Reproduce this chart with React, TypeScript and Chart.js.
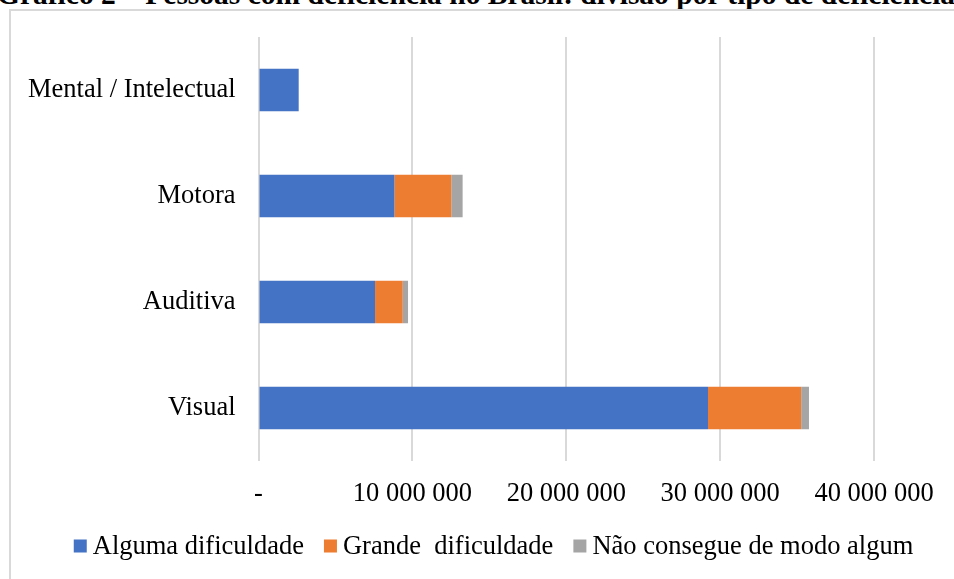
import React, { useEffect, useRef } from "react";
import { Chart, registerables } from "chart.js";

Chart.register(...registerables);

// Pessoas com deficiência por tipo e grau de dificuldade
const categories = ["Mental / Intelectual", "Motora", "Auditiva", "Visual"];
const seriesNames = ["Alguma dificuldade", "Grande  dificuldade", "Não consegue de modo algum"];
const algumaDificuldade = [2611536, 8832249, 7574145, 29211482];
const grandeDificuldade = [null, 3698929, 1798967, 6056533];
const naoConsegue = [null, 734421, 344206, 506377];
const xTickValues = [0, 10000000, 20000000, 30000000, 40000000];
const xTickLabels = ["-", "10 000 000", "20 000 000", "30 000 000", "40 000 000"];
const seriesColors = ["#4472C4", "#ED7D31", "#A5A5A5"];
const titleText = "Gráfico 2 – Pessoas com deficiência no Brasil: divisão por tipo de deficiência";

const FONT_FAMILY = '"Liberation Serif", "Times New Roman", serif';
const FONT_SIZE = 26.5;
const CANVAS_W = 1000;
const CANVAS_H = 579;
const PLOT_LEFT = 258.5;
const PLOT_RIGHT = 874;
const PLOT_TOP = 37;
const PLOT_BOTTOM = 461;

// Legend drawn under the axis, square swatch followed by the series name
const bottomLegend = {
  id: "bottomLegend",
  afterDraw(chart: any) {
    const ctx = chart.ctx as CanvasRenderingContext2D;
    const box = 13;
    const textGap = 6;
    const itemGap = 20;
    const centerX = 493.5;
    const centerY = 546;
    ctx.save();
    ctx.font = `${FONT_SIZE}px ${FONT_FAMILY}`;
    ctx.textBaseline = "middle";
    ctx.textAlign = "left";
    const items = chart.data.datasets.map((ds: any) => ({
      text: ds.label as string,
      color: ds.backgroundColor as string,
      w: ctx.measureText(ds.label).width,
    }));
    const total =
      items.reduce((s: number, it: any) => s + box + textGap + it.w, 0) + itemGap * (items.length - 1);
    let x = centerX - total / 2;
    for (const it of items) {
      ctx.fillStyle = it.color;
      ctx.fillRect(x, centerY - box / 2, box, box);
      x += box + textGap;
      ctx.fillStyle = "#000";
      ctx.fillText(it.text, x, centerY + 1);
      x += it.w + itemGap;
    }
    ctx.restore();
  },
};

export default function App() {
  const canvasRef = useRef<HTMLCanvasElement | null>(null);

  useEffect(() => {
    if (!canvasRef.current) return;
    const datasets = [algumaDificuldade, grandeDificuldade, naoConsegue].map((values, i) => ({
      label: seriesNames[i],
      data: values,
      backgroundColor: seriesColors[i],
      borderWidth: 0,
      barPercentage: 0.4,
      categoryPercentage: 1,
    }));
    const chart = new Chart(canvasRef.current, {
      type: "bar",
      data: { labels: categories, datasets },
      plugins: [bottomLegend],
      options: {
        indexAxis: "y",
        animation: false,
        responsive: false,
        maintainAspectRatio: false,
        layout: {
          padding: { left: 0, right: CANVAS_W - PLOT_RIGHT, top: PLOT_TOP, bottom: 0 },
        },
        plugins: {
          legend: { display: false },
          tooltip: { enabled: false },
          title: { display: false },
        },
        scales: {
          x: {
            stacked: true,
            min: 0,
            max: 40000000,
            afterBuildTicks: (scale: any) => {
              scale.ticks = xTickValues.map((v) => ({ value: v }));
            },
            ticks: {
              callback: (v: any) => {
                const i = xTickValues.indexOf(Number(v));
                return i >= 0 ? xTickLabels[i] : "";
              },
              font: { family: FONT_FAMILY, size: FONT_SIZE, lineHeight: 1.2 },
              color: "#000",
              padding: 17,
              maxRotation: 0,
              autoSkip: false,
            },
            grid: { color: "#d9d9d9", lineWidth: 2, drawTicks: false },
            border: { display: false },
            afterFit: (scale: any) => {
              scale.height = CANVAS_H - PLOT_BOTTOM;
              scale.paddingLeft = 0;
              scale.paddingRight = 0;
            },
          },
          y: {
            stacked: true,
            ticks: {
              font: { family: FONT_FAMILY, size: FONT_SIZE, lineHeight: 1.2 },
              color: "#000",
              padding: 23,
              crossAlign: "near",
            },
            grid: { display: false, drawTicks: false },
            border: { display: false },
            afterFit: (scale: any) => {
              scale.width = PLOT_LEFT;
              scale.paddingTop = 0;
              scale.paddingBottom = 0;
            },
          },
        },
      },
    } as any);
    return () => chart.destroy();
  }, []);

  return (
    <div
      style={{
        position: "fixed",
        left: 0,
        top: 0,
        width: 954,
        height: 579,
        overflow: "hidden",
        background: "#fff",
      }}
    >
      <div
        style={{
          position: "absolute",
          left: -3,
          top: -21,
          whiteSpace: "nowrap",
          fontFamily: FONT_FAMILY,
          fontWeight: "bold",
          fontSize: 29.5,
          lineHeight: "30px",
          color: "#000",
        }}
      >
        {titleText}
      </div>
      <div
        style={{
          position: "absolute",
          left: 9,
          top: 9,
          width: 1000,
          height: 700,
          border: "2px solid #d9d9d9",
          boxSizing: "border-box",
        }}
      />
      <canvas
        ref={canvasRef}
        width={CANVAS_W}
        height={CANVAS_H}
        style={{ position: "absolute", left: 0, top: 0, width: CANVAS_W, height: CANVAS_H }}
      />
    </div>
  );
}
